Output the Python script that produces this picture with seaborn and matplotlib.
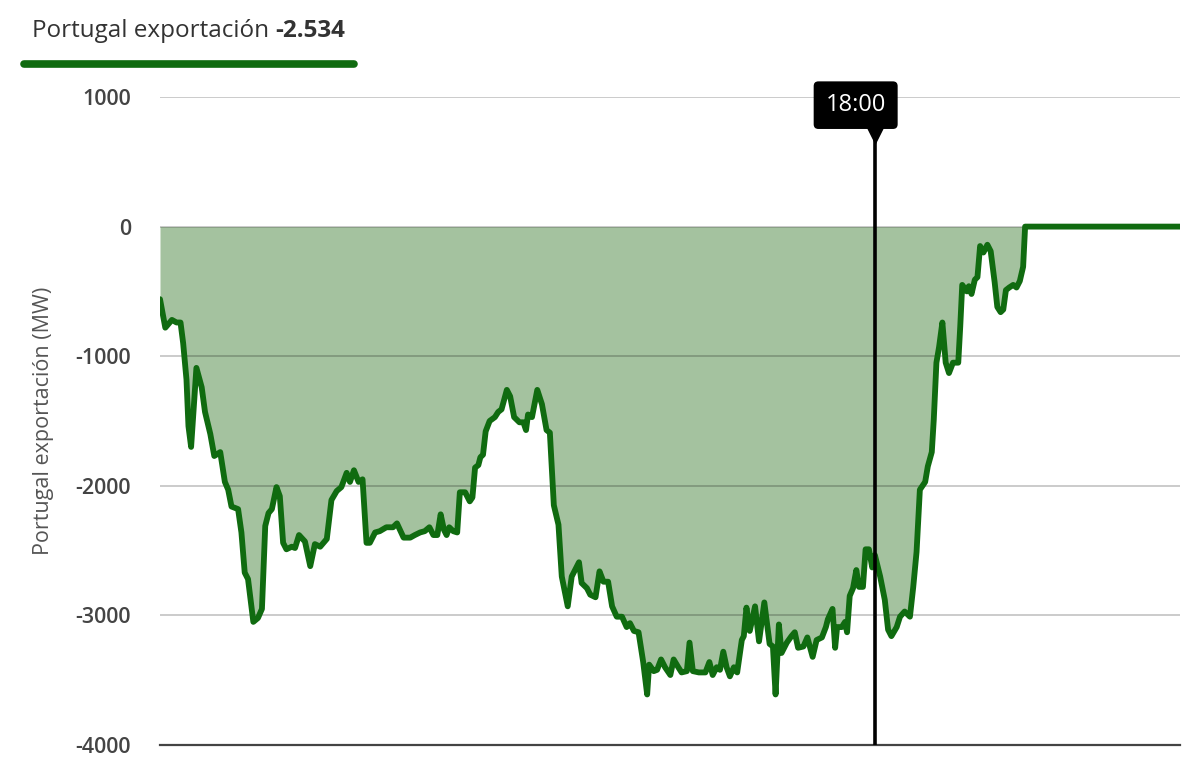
import pandas as pd
import seaborn as sns
import matplotlib.pyplot as plt
from matplotlib.lines import Line2D

# minutos desde el inicio del eje y exportación de Portugal (MW)
minutos = [
    0, 8, 18, 25, 31, 35, 40, 43, 47, 55,
    63, 68, 76, 82, 91, 98, 103, 108, 118, 123,
    128, 133, 141, 148, 154, 159, 164, 169, 176, 181,
    186, 191, 199, 204, 210, 219, 227, 234, 242, 252,
    259, 267, 274, 282, 287, 293, 300, 306, 312, 317,
    325, 332, 342, 352, 358, 368, 378, 385, 393, 400,
    407, 413, 419, 424, 429, 433, 437, 443, 449, 453,
    461, 468, 472, 476, 481, 484, 488, 492, 498, 506,
    511, 516, 524, 529, 535, 543, 549, 553, 556, 562,
    570, 577, 584, 589, 595, 602, 607, 616, 622, 633,
    637, 645, 650, 658, 664, 670, 677, 683, 690, 698,
    705, 710, 716, 723, 730, 736, 739, 746, 751, 757,
    763, 771, 776, 783, 788, 796, 800, 805, 814, 824,
    830, 835, 841, 846, 851, 856, 861, 867, 872, 879,
    882, 886, 891, 899, 905, 913, 921, 926, 930, 935,
    939, 947, 954, 959, 964, 972, 978, 986, 992, 1000,
    1006, 1009, 1016, 1020, 1023, 1030, 1035, 1038, 1042, 1047,
    1052, 1056, 1062, 1066, 1071, 1076, 1080, 1088, 1095, 1100,
    1105, 1113, 1118, 1125, 1133, 1138, 1143, 1148, 1156, 1160,
    1166, 1169, 1173, 1177, 1182, 1187, 1192, 1198, 1206, 1209,
    1212, 1219, 1222, 1226, 1231, 1235, 1239, 1244, 1250, 1255,
    1261, 1265, 1270, 1274, 1278, 1283, 1289, 1294, 1299, 1304,
    1307, 1541,
]
exportacion = [
    -560, -780, -720, -740, -740, -900, -1180, -1540, -1700, -1090,
    -1240, -1430, -1600, -1770, -1740, -1970, -2030, -2160, -2180, -2360,
    -2670, -2720, -3050, -3020, -2950, -2310, -2210, -2180, -2010, -2080,
    -2440, -2490, -2470, -2480, -2380, -2430, -2620, -2450, -2470, -2410,
    -2110, -2040, -2010, -1900, -1970, -1880, -1970, -1950, -2440, -2440,
    -2360, -2350, -2320, -2320, -2290, -2400, -2400, -2380, -2360, -2350,
    -2320, -2380, -2380, -2220, -2340, -2380, -2320, -2350, -2360, -2050,
    -2050, -2120, -2090, -1860, -1840, -1780, -1760, -1580, -1500, -1470,
    -1430, -1410, -1260, -1310, -1470, -1510, -1510, -1570, -1450, -1470,
    -1260, -1370, -1570, -1590, -2150, -2300, -2700, -2930, -2700, -2590,
    -2750, -2790, -2840, -2860, -2660, -2740, -2740, -2930, -3010, -3010,
    -3090, -3060, -3120, -3130, -3360, -3610, -3380, -3430, -3420, -3340,
    -3400, -3460, -3340, -3400, -3440, -3430, -3210, -3430, -3440, -3440,
    -3360, -3460, -3400, -3420, -3280, -3400, -3470, -3400, -3440, -3190,
    -3160, -2940, -3120, -2930, -3200, -2900, -3220, -3240, -3610, -3070,
    -3290, -3210, -3160, -3130, -3250, -3240, -3170, -3320, -3190, -3170,
    -3090, -3030, -2950, -3250, -3090, -3090, -3050, -3130, -2850, -2790,
    -2650, -2780, -2780, -2490, -2490, -2630, -2534, -2700, -2880, -3110,
    -3160, -3090, -3010, -2970, -3010, -2780, -2510, -2030, -1970, -1850,
    -1740, -1490, -1050, -930, -740, -1050, -1130, -1050, -1050, -770,
    -450, -500, -460, -520, -410, -390, -150, -200, -140, -190,
    -430, -620, -660, -640, -490, -470, -450, -470, -420, -310,
    0, 0,
]
ticks_y = [1000, 0, -1000, -2000, -3000, -4000]
hora_cursor = "18:00"
min_cursor = 1080
titulo = "Portugal exportación"
etiqueta_y = "Portugal exportación (MW)"

VERDE = "#106b10"
RELLENO = "#a4c29f"

df = pd.DataFrame({"minuto": minutos, "mw": exportacion})

sns.set_theme(style="white")
plt.rcParams["font.family"] = ["Open Sans", "DejaVu Sans"]

fig = plt.figure(figsize=(12, 7.8), dpi=100)
ax = fig.add_axes([160 / 1200, 35 / 780, 1020 / 1200, 648 / 780])

ax.fill_between(df["minuto"], df["mw"], 0, color=RELLENO, lw=0, zorder=1)
sns.lineplot(data=df, x="minuto", y="mw", ax=ax, color=VERDE, lw=4.2,
             estimator=None, sort=False, zorder=3)

ax.set_xlim(0, 1541)
ax.set_ylim(-4000, 1000)
ax.set_yticks(ticks_y)
ax.set_yticklabels([f"{t}" for t in ticks_y])
ax.set_xticks([])
ax.set_xlabel("")
ax.set_axisbelow("line")
ax.yaxis.grid(True, color="black", alpha=0.22, lw=1.3)
ax.tick_params(axis="y", length=0, pad=21, labelsize=15.5, labelcolor="#444444")
for lab in ax.get_yticklabels():
    lab.set_fontweight("semibold")
for s in ["top", "right", "left"]:
    ax.spines[s].set_visible(False)
ax.spines["bottom"].set_color("#444444")
ax.spines["bottom"].set_linewidth(1.6)

ax.set_ylabel(etiqueta_y, fontsize=15.5, color="#555555")
ax.yaxis.set_label_coords(-0.104, 0.5)

# cursor de las 18:00 (la caja va algo desplazada a la izquierda)
ax.vlines(min_cursor, -4000, 700, color="black", lw=2.6, zorder=5)
ax.plot([min_cursor], [715], marker="v", ms=13, color="black", clip_on=False, zorder=6)
ax.text(min_cursor - 29, 937, hora_cursor, ha="center", va="center", fontsize=17,
        color="white", clip_on=False, zorder=7,
        bbox=dict(boxstyle="round,pad=0.5,rounding_size=0.2", fc="black", ec="none"))

# cabecera con el valor en el cursor
valor = df.loc[df["minuto"] == min_cursor, "mw"].iloc[0]
valor_txt = f"{valor:,.0f}".replace(",", ".")
t1 = fig.text(32 / 1200, 1 - 37 / 780, titulo + " ", fontsize=17.5, color="#333333",
              va="baseline", ha="left")
fig.canvas.draw()
bb = t1.get_window_extent()
fig.text(bb.x1 / 1200, 1 - 37 / 780, valor_txt, fontsize=17.5, color="#333333",
         fontweight="bold", va="baseline", ha="left")
fig.add_artist(Line2D([24 / 1200, 354 / 1200], [1 - 64 / 780] * 2, lw=5.5,
                      color=VERDE, solid_capstyle="round"))

fig.savefig("out.png", dpi=100)
